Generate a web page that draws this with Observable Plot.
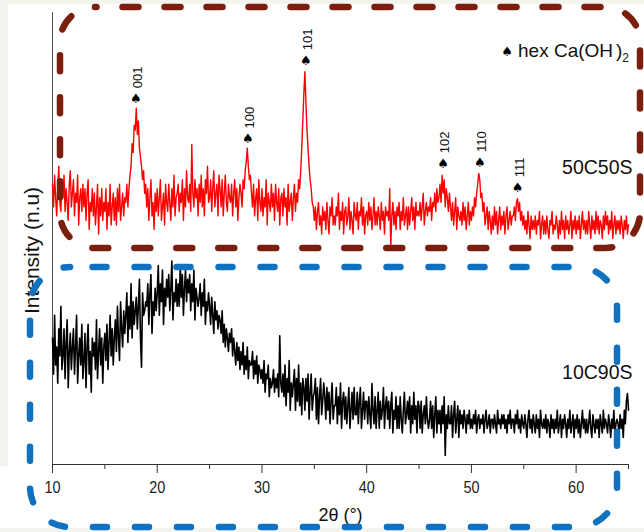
<!DOCTYPE html>
<html><head><meta charset="utf-8">
<script src="https://cdn.jsdelivr.net/npm/d3@7"></script>
<script src="https://cdn.jsdelivr.net/npm/@observablehq/plot@0.6"></script>
<style>
html,body{margin:0;padding:0;background:#f3f4ee;}
#wrap{position:relative;width:644px;height:532px;overflow:hidden;}
#panel{position:absolute;left:8px;top:4px;width:636px;height:524px;background:#fff;}
#panel2{position:absolute;left:0;top:466px;width:8px;height:62px;background:#fff;}
#chart{position:absolute;left:0;top:0;}
#overlay{position:absolute;left:0;top:0;pointer-events:none;}
</style></head><body>
<div id="wrap"><div id="panel"></div><div id="panel2"></div><div id="chart"></div>
<svg id="overlay" width="644" height="532"></svg></div>
<script>
// 2θ scan grid: 10° to 65°, step 0.1°
const scanStart = 10, scanStep = 0.1;

// 50C50S (red, offset trace) intensity, n.u. — one row per degree (x.0 … x.9)
const red50C50S = [
 62,57,64,59,55,61,66,58,56,63,
 59,64,56,61,58,54,62,65,57,60,
 63,55,60,58,64,53,59,61,56,62,
 57,61,54,60,63,52,58,56,61,55,
 60,53,57,62,51,59,55,61,54,58,
 56,61,52,58,55,62,53,57,60,54,
 59,53,61,56,62,54,57,60,55,59,
 58,62,57,61,64,66,71,69,75,74,
 78.8,73,76,70,68,66,63,65,60,62,
 57,61,54,59,63,55,58,52,60,56,
 61,55,59,63,54,57,60,53,62,58,
 56,62,58,54,61,57,64,55,59,60,
 62,56,60,58,63,54,61,57,65,59,
 58,62,56,70.8,60,57,63,59,61,55,
 62,58,64,57,61,55,63,60,66,58,
 59,63,56,61,65,57,60,62,55,64,
 61,57,63,55,60,64,58,56,62,59,
 58,62,55,60,63,57,61,54,59,62,
 60,57,63,61,65,67,70,66,63,64,
 60,57,62,55,59,61,54,63,58,56,
 61,55,59,57,63,53,60,58,56,62,
 57,60,54,62,58,56,61,53,59,60,
 55,61,57,59,53,62,56,58,60,54,
 59,62,56,60,58,63,61,65,70,76,
 82,86.9,80,74,70,66,63,61,58,57,
 54,57,52,56,58,53,55,51,57,54,
 56,52,58,54,51,57,55,59,53,55,
 53,57,55,60,52,56,54,58,51,56,
 57,53,55,59,52,56,54,51,58,55,
 54,58,52,56,55,59,53,57,51,55,
 56,53,58,54,57,52,55,59,53,56,
 53,57,55,52,58,54,56,51,57,55,
 56,54,61,48,55,58,53,56,52,57,
 55,58,52,56,54,59,53,55,57,52,
 57,53,56,59,54,57,52,58,55,56,
 55,58,54,57,60,53,56,58,55,57,
 56,59,54,58,57,60,56,61,58,59,
 62,58,64,60,63,57,61,59,56,60,
 57,54,58,53,56,59,52,57,55,54,
 56,53,58,54,57,52,55,58,53,56,
 54,57,55,59,57,60,62,64.4,63,59,
 60,56,58,53,55,57,52,56,54,51,
 55,52,57,53,56,51,54,57,52,55,
 53,56,51,55,57,52,54,56,53,55,
 55,57,54,58,58.8,56,58,54,56,53,
 55,52,54,51,56,53,50,55,52,54,
 52,55,51,54,53,56,50,53,55,51,
 54,51,55,52,50,54,53,56,51,53,
 52,55,53,50,54,51,56,52,54,50,
 55,52,54,51,53,56,50,54,52,55,
 51,54,52,55,50,53,56,52,54,51,
 54,51,56,53,50,55,52,54,51,56,
 52,55,51,54,53,50,55,52,56,53,
 55,51,54,52,56,50,53,55,51,54,
 52,54,51,55,53,50,54,52,55,51,
 53
];

// 10C90S (black trace) intensity, n.u. — one row per degree (x.0 … x.9)
const black10C90S = [
 28,20,33,22,26,18,30,24,35,21,
 24,30,19,27,32,17,25,29,21,26,
 30,20,26,33,18,24,28,22,31,19,
 23,29,17,26,31,20,25,16,28,24,
 27,21,32,19,25,30,22,28,18,26,
 29,23,31,21,27,33,24,30,22,28,
 32,25,35,28,23,36,30,26,34,29,
 33,38,27,35,30,40,28,36,31,34,
 37,30,35,41,28,21.5,38,33,34,36,
 35,40,31,38,42,29,36,33,39,34,
 38,44,33,40,36,43,31,39,35,41,
 37,42,34,39,45,32,38,36,41,35,
 40,35,44,37,42,33,39,43,36,41,
 38,42,34,40,36,43,32,39,37,35,
 37,40,33,38,35,41,31,36,34,38,
 35,31,37,33,29,36,32,34,30,33,
 32,29,34,27,31,26,30,28,25,29,
 27,30,24,28,25,22,27,23,26,21,
 25,22,27,20,24,21,26,19,23,22,
 22,25,19,23,20,24,18,22,21,19,
 21,18,23,16,20,19,22,15,19,17,
 18,21,16,19,17,20,15,28.5,18,16,
 20,15,22,13,19,16,23,12,18,15,
 18,21,12,19,14,22,13,18,11,19,
 17,12,19,14,20,10,16,20,12,15,
 16,19,10,17,9,15,19,11,14,18,
 15,10,17,12,16,9,14,18,10,13,
 13,17,9,15,11,18,8,14,16,10,
 15,9,13,17,8,12,16,10,17,11,
 11,16,9,14,17,8,12,16,10,14,
 14,9,15,11,8,17.9,12,9,15,8,
 12,16,8,14,10,12,17,8,13,15,
 10,14,8,13,16,7,12,10,15,8,
 13,8,15,10,7,12,16,9,11,14,
 10,15,7,13,9,16,10,13,7,14,
 13,8,14,7,11,13,9,15,10,8,
 10,14,8,13,6,11,15,7,12,9,
 12,7,13,9,15,2,11,8,13,9,
 9,13,6,11,14,7,10,13,6,12,
 9,11,8,12,10,7,11,9,12,8,
 10,8,11,9,12,7,10,11,8,10,
 9,11,7,10,12,8,9,11,7,10,
 10,8,11,9,7,12,9,10,8,11,
 9,11,8,10,7,11,9,12,8,10,
 10,7,11,9,12,8,10,7,11,9,
 8,11,9,6,10,12,8,10,7,11,
 9,7,11,8,10,6,12,9,8,10,
 8,11,7,10,9,6,11,8,10,7,
 10,8,12,7,9,11,6,10,8,11,
 9,6,10,8,12,7,9,11,6,10,
 8,11,7,10,6,9,12,8,10,7,
 10,7,9,12,8,6,11,9,7,10,
 8,10,6,11,9,7,12,8,10,9,
 7,11,9,6,10,8,12,7,9,10,
 9,7,11,8,10,6,12,9,14,15.7,
 12
];

// hex Ca(OH)2 reflections
const peakTwoTheta = [17.96, 28.64, 34.2, 47.3, 50.8, 54.4];
const peakHKL = ["001", "100", "101", "102", "110", "111"];
const peakMarkY = [81.0, 72.1, 89.4, 66.6, 66.8, 61.1];

const sampleNames = ["50C50S", "10C90S"];
const sampleLabelY = [65.7, 20.4];

const majorTicks = [10, 20, 30, 40, 50, 60];
const minorTicks = [15, 25, 35, 45, 55, 65];

const redData = red50C50S.map((v, i) => ({t: scanStart + i * scanStep, v}));
const blackData = black10C90S.map((v, i) => ({t: scanStart + i * scanStep, v}));
const peaks = peakTwoTheta.map((t, i) => ({t, hkl: peakHKL[i], y: peakMarkY[i]}));
const samples = sampleNames.map((n, i) => ({n, y: sampleLabelY[i]}));

const sans = "'Liberation Sans', Arial, Helvetica, sans-serif";

const chart = Plot.plot({
  width: 644, height: 532,
  marginLeft: 52, marginRight: 16, marginTop: 12, marginBottom: 68,
  style: {background: "transparent", fontFamily: sans, overflow: "visible"},
  x: {domain: [10, 65]},
  y: {domain: [0, 100], axis: null},
  marks: [
    Plot.axisX({ticks: minorTicks, tickSize: 5, tickFormat: () => "", label: null, stroke: "#333"}),
    Plot.axisX({ticks: majorTicks, tickSize: 9, tickPadding: 7, label: null, fontSize: 17, fill: "#222", stroke: "#333"}),
    Plot.ruleY([0], {stroke: "#333", strokeWidth: 1}),
    Plot.ruleX([10], {y1: 0, y2: 100, stroke: "#555", strokeWidth: 1}),
    Plot.line(blackData, {x: "t", y: "v", stroke: "#000", strokeWidth: 1.6}),
    Plot.line(redData, {x: "t", y: "v", stroke: "#ff0000", strokeWidth: 1.4}),
    Plot.text(peaks, {x: "t", y: "y", text: () => "\u2660", fontSize: 13, fontFamily: "'DejaVu Sans', sans-serif", fill: "#000"}),
    Plot.text(peaks, {x: "t", y: "y", text: "hkl", rotate: -90, dy: -21, dx: 2, fontSize: 13, fill: "#111"}),
    Plot.text(samples, {x: () => 65, y: "y", text: "n", textAnchor: "end", dx: 4, fontSize: 19.5, fill: "#111"}),
    Plot.text(["Intensity (n.u)"], {frameAnchor: "left", textAnchor: "middle", rotate: -90, dx: -20, dy: 12, fontSize: 21, fill: "#111"}),
    Plot.text(["2\u03b8 (\u00b0)"], {frameAnchor: "bottom", dy: 56, fontSize: 18, fill: "#111"})
  ]
});
document.getElementById("chart").appendChild(chart);

// condense x tick labels slightly, like the original
d3.select(chart).selectAll('g[aria-label="x-axis tick label"] text').each(function() {
  const x = +this.getAttribute("x") || 0, y = +this.getAttribute("y") || 0;
  const tr = this.getAttribute("transform") || "";
  this.setAttribute("transform", `${tr} translate(${x},${y}) scale(0.85,1) translate(${-x},${-y})`);
});

// legend and annotation boxes
const ov = d3.select("#overlay");
ov.append("text").attr("x", 507).attr("y", 55.5).attr("text-anchor", "middle")
  .attr("font-family", "'DejaVu Sans', sans-serif").attr("font-size", 13).text("\u2660");
const lg = ov.append("text").attr("x", 518).attr("y", 57).attr("font-family", sans)
  .attr("font-size", 19).attr("fill", "#111");
lg.append("tspan").text("hex Ca(OH");
lg.append("tspan").attr("dx", 3).text(")");
lg.append("tspan").attr("font-size", 12).attr("dy", 5).text("2");

ov.append("rect").attr("x", 60).attr("y", 7).attr("width", 580).attr("height", 241).attr("rx", 35)
  .attr("fill", "none").attr("stroke", "#7a1f0e").attr("stroke-width", 6.5)
  .attr("stroke-linecap", "round").attr("stroke-dasharray", "16 26").attr("stroke-dashoffset", 14.5);
ov.append("rect").attr("x", 30).attr("y", 267).attr("width", 587).attr("height", 260).attr("rx", 40)
  .attr("fill", "none").attr("stroke", "#1071c0").attr("stroke-width", 6.5)
  .attr("stroke-linecap", "round").attr("stroke-dasharray", "14 28").attr("stroke-dashoffset", 19.5);
</script>
</body></html>
